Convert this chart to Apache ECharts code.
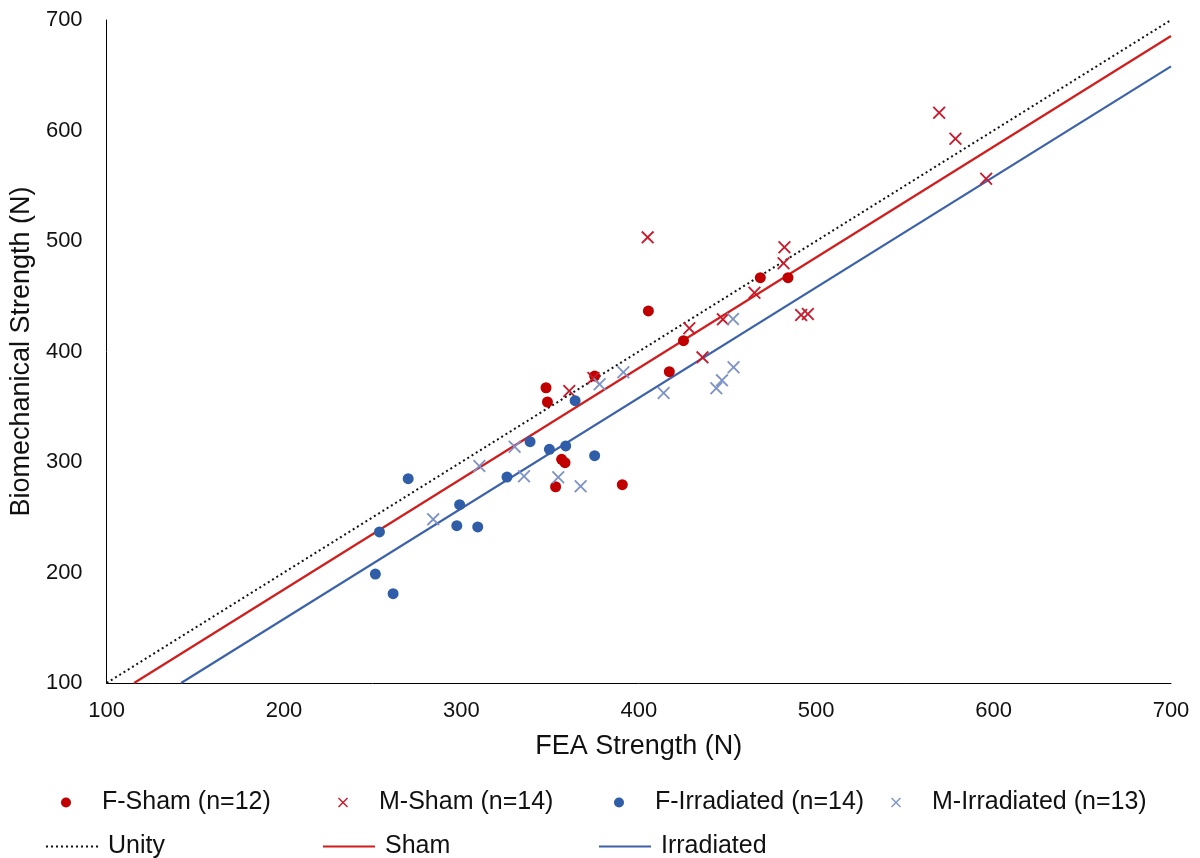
<!DOCTYPE html>
<html>
<head>
<meta charset="utf-8">
<script src="https://cdn.jsdelivr.net/npm/echarts@6/dist/echarts.min.js"></script>
<style>
html,body{margin:0;padding:0;background:#fff;}
#chart{width:1200px;height:858px;}
</style>
</head>
<body>
<div id="chart"></div>
<script>
// ---- data (FEA strength, biomechanical strength) ----
const fShamX = [347.7, 348.5, 375.1, 356.5, 358.4, 353.1, 390.7, 405.4, 417.2, 425.2, 468.5, 484.1];
const fShamY = [367.2, 354.3, 377.8, 302.4, 299.4, 277.6, 279.5, 436.7, 381.7, 409.8, 466.8, 466.8];

const mShamX = [360.8, 374.4, 405.0, 428.5, 435.9, 447.4, 465.2, 481.6, 482.1, 491.5, 495.3, 569.3, 578.5, 595.8];
const mShamY = [364.3, 376.0, 503.3, 421.0, 394.7, 429.1, 453.2, 479.8, 494.3, 433.0, 433.9, 616.1, 592.6, 556.4];

const fIrrX = [270.0, 253.8, 251.5, 261.5, 297.4, 309.2, 299.0, 325.7, 338.7, 349.6, 358.8, 375.1, 364.1];
const fIrrY = [284.9, 236.7, 198.6, 180.8, 242.4, 241.2, 261.4, 286.4, 318.4, 311.5, 314.5, 305.7, 355.5];

const mIrrX = [284.1, 310.1, 330.0, 335.3, 354.6, 367.2, 377.9, 391.3, 414.0, 443.7, 446.9, 453.4, 453.1];
const mIrrY = [248.1, 296.4, 313.8, 287.1, 286.2, 278.0, 370.3, 381.2, 362.4, 366.7, 373.9, 385.7, 429.4];

const unityX = [100, 700];
const unityY = [100, 700];
const shamLineX = [115.5, 700];
const shamLineY = [100, 685.5];
const irrLineX = [142, 700];
const irrLineY = [100, 658];

const axisTicks = [100, 200, 300, 400, 500, 600, 700];

const seriesNames = ['F-Sham (n=12)', 'M-Sham (n=14)', 'F-Irradiated (n=14)', 'M-Irradiated (n=13)', 'Unity', 'Sham', 'Irradiated'];

// ---- helpers ----
const zip = (xs, ys) => xs.map((x, i) => [x, ys[i]]);
const XSYM = 'path://M10,0L50,40L90,0L100,10L60,50L100,90L90,100L50,60L10,100L0,90L40,50L0,10Z';

const RED = '#c00000';
const BLUE = '#2f5da8';
const LBLUE = '#7d93c6';
const FONT = 'Liberation Sans, Arial, Helvetica, sans-serif';
const TXT = '#111';

// legend grid (Excel-style equal columns)
const colStart = [45, 322, 598, 875];
const rowTop = [790, 834];

function markerLegend(name, col) {
  const center = colStart[col] + 26;
  return {
    data: [name], left: center - 10, top: rowTop[0], padding: 0,
    itemWidth: 20, itemHeight: 10, selectedMode: false,
    textStyle: {fontFamily: FONT, fontSize: 25, color: TXT, padding: [0, 0, 0, 21]}
  };
}
function lineLegend(name, col) {
  return {
    data: [name], left: colStart[col], top: rowTop[1], padding: 0,
    itemWidth: 52, itemHeight: 10, selectedMode: false,
    itemStyle: {opacity: 0},
    textStyle: {fontFamily: FONT, fontSize: 25, color: TXT, padding: [0, 0, 0, 5]}
  };
}

const chart = echarts.init(document.getElementById('chart'), null, {renderer: 'canvas'});
chart.setOption({
  animation: false,
  backgroundColor: '#fff',
  grid: {left: 106, right: 29, top: 20, bottom: 175},
  xAxis: {
    type: 'value', min: axisTicks[0], max: axisTicks[axisTicks.length - 1], interval: 100,
    axisLine: {show: true, lineStyle: {color: '#000', width: 1}},
    axisTick: {show: false},
    splitLine: {show: false},
    axisLabel: {fontFamily: FONT, fontSize: 22, color: TXT, margin: 17},
    name: 'FEA Strength (N)', nameLocation: 'middle', nameGap: 50,
    nameTextStyle: {fontFamily: FONT, fontSize: 27, color: TXT}
  },
  yAxis: {
    type: 'value', min: axisTicks[0], max: axisTicks[axisTicks.length - 1], interval: 100,
    axisLine: {show: true, lineStyle: {color: '#000', width: 1}},
    axisTick: {show: false},
    splitLine: {show: false},
    axisLabel: {fontFamily: FONT, fontSize: 22, color: TXT, margin: 24},
    name: 'Biomechanical Strength (N)', nameLocation: 'middle', nameGap: 71,
    nameTextStyle: {fontFamily: FONT, fontSize: 27, color: TXT}
  },
  legend: [
    markerLegend(seriesNames[0], 0),
    markerLegend(seriesNames[1], 1),
    markerLegend(seriesNames[2], 2),
    markerLegend(seriesNames[3], 3),
    lineLegend(seriesNames[4], 0),
    lineLegend(seriesNames[5], 1),
    lineLegend(seriesNames[6], 2)
  ],
  series: [
    {
      name: seriesNames[4], type: 'line', data: zip(unityX, unityY), symbol: 'none',
      lineStyle: {color: '#111', width: 2, type: [2, 3]}, itemStyle: {color: '#111'}, z: 1
    },
    {
      name: seriesNames[5], type: 'line', data: zip(shamLineX, shamLineY), symbol: 'none',
      lineStyle: {color: '#d21d1d', width: 2.2}, itemStyle: {color: '#d21d1d'}, z: 1
    },
    {
      name: seriesNames[6], type: 'line', data: zip(irrLineX, irrLineY), symbol: 'none',
      lineStyle: {color: '#3c62aa', width: 2.2}, itemStyle: {color: '#3c62aa'}, z: 1
    },
    {
      name: seriesNames[0], type: 'scatter', data: zip(fShamX, fShamY),
      symbol: 'circle', symbolSize: 11, itemStyle: {color: RED, opacity: 1}, z: 3
    },
    {
      name: seriesNames[1], type: 'scatter', data: zip(mShamX, mShamY),
      symbol: XSYM, symbolSize: 13, itemStyle: {color: '#c81a2a', opacity: 1}, z: 3
    },
    {
      name: seriesNames[2], type: 'scatter', data: zip(fIrrX, fIrrY),
      symbol: 'circle', symbolSize: 11, itemStyle: {color: BLUE, opacity: 1}, z: 3
    },
    {
      name: seriesNames[3], type: 'scatter', data: zip(mIrrX, mIrrY),
      symbol: XSYM, symbolSize: 13, itemStyle: {color: LBLUE, opacity: 1}, z: 3
    }
  ]
});
</script>
</body>
</html>
